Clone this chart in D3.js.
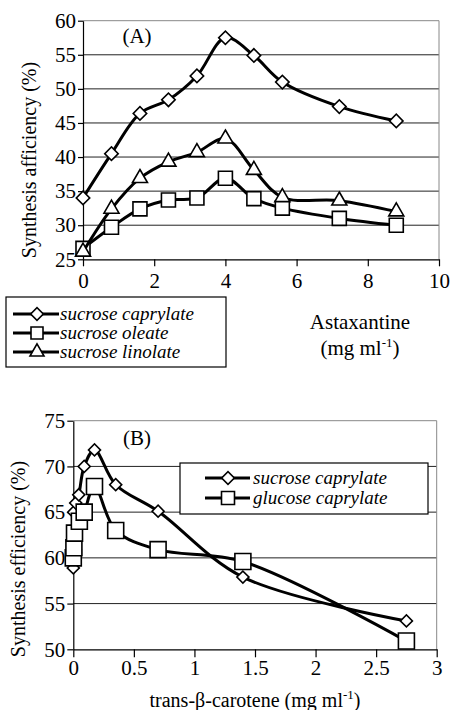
<!DOCTYPE html>
<html lang="en">
<head>
<meta charset="UTF-8">
<title>Synthesis efficiency</title>
<script src="https://d3js.org/d3.v7.min.js"></script>
<style>
  body { margin: 0; background: #fff; }
  svg text { font-family: "Liberation Serif", "Tinos", "DejaVu Serif", serif; fill: #000; }
</style>
</head>
<body>
<div id="chart"></div>
<script>
// Panel A: astaxantine
const astaX = [0, 0.8, 1.6, 2.4, 3.2, 4, 4.8, 5.6, 7.2, 8.8];
const caprylateA = [34, 40.5, 46.4, 48.4, 51.9, 57.5, 54.9, 51, 47.4, 45.3];
const oleateA = [26.6, 29.7, 32.4, 33.7, 34, 36.9, 33.9, 32.5, 31, 30];
const linolateA = [26.1, 32.4, 36.9, 39.3, 40.7, 42.7, 38.1, 34.1, 33.6, 32];
const xTicksA = [0, 2, 4, 6, 8, 10];
const yTicksA = [25, 30, 35, 40, 45, 50, 55, 60];

// Panel B: trans-beta-carotene
const sucroseXB = [0, 0.003, 0.02, 0.045, 0.09, 0.175, 0.35, 0.7, 1.4, 2.75];
const sucroseB = [58.9, 65, 66, 66.9, 70, 71.8, 68, 65.1, 57.9, 53.1];
const glucoseXB = [0, 0.005, 0.01, 0.05, 0.09, 0.175, 0.35, 0.7, 1.4, 2.75];
const glucoseB = [60, 61.1, 62.7, 64, 65, 67.8, 63, 60.9, 59.6, 50.9];
const xTicksB = [0, 0.5, 1, 1.5, 2, 2.5, 3];
const yTicksB = [50, 55, 60, 65, 70, 75];

const FONT = "'Liberation Serif', 'Tinos', 'DejaVu Serif', serif";

const svg = d3.select("#chart").append("svg")
    .attr("width", 452)
    .attr("height", 710);

svg.append("rect").attr("width", 452).attr("height", 710).attr("fill", "#fff");

// marker drawing
function marker(g, shape, size) {
    if (shape === "diamond") {
        return g.append("path")
            .attr("d", d3.symbol(d3.symbolSquare, size * size)())
            .attr("transform", "rotate(45)");
    }
    if (shape === "square") {
        return g.append("path").attr("d", d3.symbol(d3.symbolSquare, size * size)());
    }
    // triangle, side = size
    return g.append("path").attr("d", d3.symbol(d3.symbolTriangle, Math.sqrt(3) / 4 * size * size)());
}

function drawPanel(cfg) {
    const x = d3.scaleLinear().domain(cfg.xDomain).range([cfg.left, cfg.right]);
    const y = d3.scaleLinear().domain(cfg.yDomain).range([cfg.bottom, cfg.top]);

    const g = svg.append("g");

    // gridlines
    g.selectAll(".grid")
        .data(cfg.yTicks.slice(1))
        .join("line")
        .attr("x1", cfg.left).attr("x2", cfg.right)
        .attr("y1", d => y(d)).attr("y2", d => y(d))
        .attr("stroke", (d, i, n) => i === n.length - 1 ? "#888" : "#222")
        .attr("stroke-width", 1);

    // right border
    g.append("line")
        .attr("x1", cfg.right).attr("x2", cfg.right)
        .attr("y1", cfg.top).attr("y2", cfg.bottom)
        .attr("stroke", "#888");

    // axes
    const yAxis = g.append("g")
        .attr("transform", `translate(${cfg.left},0)`)
        .call(d3.axisLeft(y).tickValues(cfg.yTicks).tickSize(cfg.yTickSize).tickSizeOuter(0).tickPadding(2));
    const xAxis = g.append("g")
        .attr("transform", `translate(0,${cfg.bottom})`)
        .call(d3.axisBottom(x).tickValues(cfg.xTicks).tickSize(cfg.xTickSize).tickSizeOuter(0)
            .tickPadding(cfg.xPad).tickFormat(d3.format("")));
    [yAxis, xAxis].forEach(a => {
        a.attr("font-family", FONT).attr("font-size", 21);
        a.select(".domain").attr("stroke", "#000").attr("stroke-width", 1.2);
        a.selectAll(".tick line").attr("stroke", "#000").attr("stroke-width", 1.2);
        a.selectAll(".tick text").attr("fill", "#000");
    });

    // series
    const line = d3.line()
        .x(d => x(d[0]))
        .y(d => y(d[1]))
        .curve(d3.curveCatmullRom.alpha(0.5));

    cfg.series.forEach(s => {
        const pts = s.xs.map((v, i) => [v, s.ys[i]]);
        g.append("path")
            .attr("d", line(pts))
            .attr("fill", "none")
            .attr("stroke", "#000")
            .attr("stroke-width", 3)
            .attr("stroke-linejoin", "round");
        pts.forEach(p => {
            const mg = g.append("g").attr("transform", `translate(${x(p[0])},${y(p[1])})`);
            marker(mg, s.shape, s.size)
                .attr("fill", "#fff")
                .attr("stroke", "#000")
                .attr("stroke-width", 1.6);
        });
    });

    // panel letter
    g.append("text")
        .attr("x", cfg.tagX).attr("y", cfg.tagY)
        .attr("font-size", 21)
        .attr("text-anchor", "middle")
        .text(cfg.tag);

    // y label
    g.append("text")
        .attr("transform", `translate(${cfg.yLabelX},${cfg.yLabelY}) rotate(-90)`)
        .attr("text-anchor", "middle")
        .attr("font-size", 20)
        .text(cfg.yLabel);
}

function drawLegend(cfg) {
    const g = svg.append("g");
    g.append("rect")
        .attr("x", cfg.x).attr("y", cfg.y)
        .attr("width", cfg.w).attr("height", cfg.h)
        .attr("fill", "#fff").attr("stroke", "#000").attr("stroke-width", 1.2);
    cfg.items.forEach((it, i) => {
        const cy = cfg.firstY + i * cfg.step;
        g.append("line")
            .attr("x1", cfg.lineX1).attr("x2", cfg.lineX2)
            .attr("y1", cy).attr("y2", cy)
            .attr("stroke", "#000").attr("stroke-width", 3);
        const mg = g.append("g").attr("transform", `translate(${cfg.markX},${cy})`);
        marker(mg, it.shape, it.size)
            .attr("fill", "#fff").attr("stroke", "#000").attr("stroke-width", 1.6);
        g.append("text")
            .attr("x", cfg.textX).attr("y", cy + 6)
            .attr("font-size", cfg.fontSize)
            .attr("font-style", "italic")
            .text(it.label);
    });
}

drawPanel({
    left: 83, right: 439, top: 20.7, bottom: 259.3,
    xDomain: [0, 10], yDomain: [25, 60],
    xTicks: xTicksA, yTicks: yTicksA,
    xTickSize: 7, yTickSize: 5, xPad: 7,
    series: [
        { xs: astaX, ys: caprylateA, shape: "diamond", size: 9.5 },
        { xs: astaX, ys: oleateA, shape: "square", size: 14 },
        { xs: astaX, ys: linolateA, shape: "triangle", size: 15 }
    ],
    tag: "(A)", tagX: 137, tagY: 43,
    yLabel: "Synthesis afficiency (%)", yLabelX: 36, yLabelY: 160
});

drawLegend({
    x: 6, y: 297, w: 220, h: 70,
    firstY: 314, step: 19,
    lineX1: 13, lineX2: 59, markX: 37, textX: 60, fontSize: 19,
    items: [
        { label: "sucrose caprylate", shape: "diamond", size: 9 },
        { label: "sucrose oleate", shape: "square", size: 12 },
        { label: "sucrose linolate", shape: "triangle", size: 14 }
    ]
});

svg.append("text")
    .attr("x", 360).attr("y", 329)
    .attr("text-anchor", "middle").attr("font-size", 21)
    .text("Astaxantine");
const unitA = svg.append("text")
    .attr("x", 360).attr("y", 355)
    .attr("text-anchor", "middle").attr("font-size", 21);
unitA.append("tspan").text("(mg ml");
unitA.append("tspan").attr("font-size", 13).attr("dy", -8).text("-1");
unitA.append("tspan").attr("dy", 8).text(")");

drawPanel({
    left: 73.3, right: 436.7, top: 420.7, bottom: 649.3,
    xDomain: [0, 3], yDomain: [50, 75],
    xTicks: xTicksB, yTicks: yTicksB,
    xTickSize: 8, yTickSize: 6, xPad: 3,
    series: [
        { xs: sucroseXB, ys: sucroseB, shape: "diamond", size: 8.5 },
        { xs: glucoseXB, ys: glucoseB, shape: "square", size: 16 }
    ],
    tag: "(B)", tagX: 137, tagY: 445,
    yLabel: "Synthesis efficiency (%)", yLabelX: 25, yLabelY: 559
});

drawLegend({
    x: 180, y: 463, w: 248, h: 51,
    firstY: 478, step: 20,
    lineX1: 205, lineX2: 250, markX: 228, textX: 253, fontSize: 19,
    items: [
        { label: "sucrose caprylate", shape: "diamond", size: 9 },
        { label: "glucose caprylate", shape: "square", size: 13 }
    ]
});

const unitB = svg.append("text")
    .attr("x", 255).attr("y", 707)
    .attr("text-anchor", "middle").attr("font-size", 20);
unitB.append("tspan").text("trans-β-carotene (mg ml");
unitB.append("tspan").attr("font-size", 13).attr("dy", -8).text("-1");
unitB.append("tspan").attr("dy", 8).text(")");
</script>
</body>
</html>
